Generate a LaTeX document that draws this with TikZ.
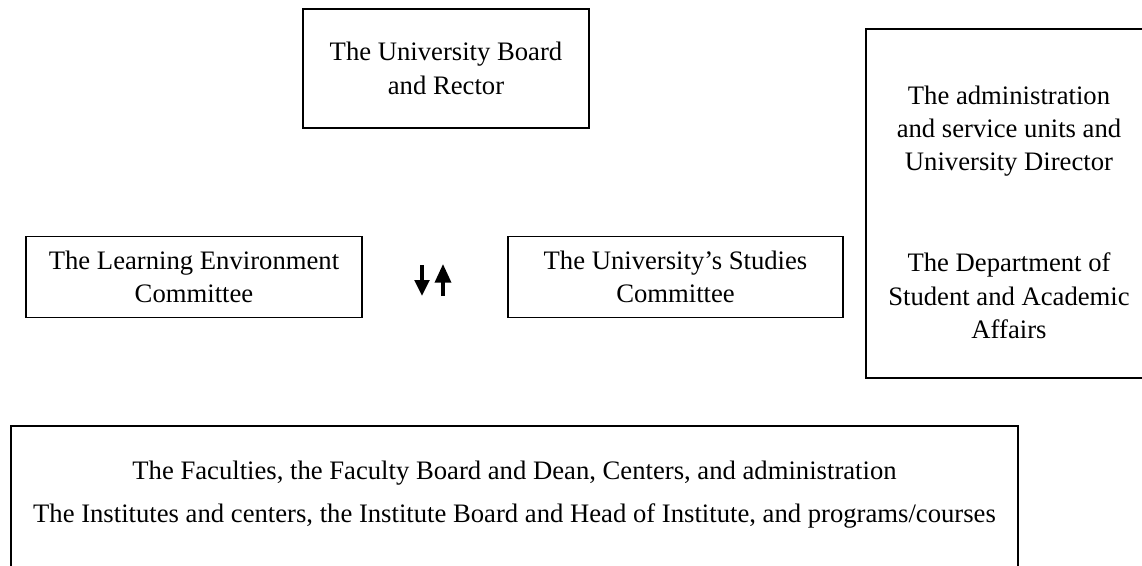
\documentclass[tikz,border=0pt]{standalone}
\usepackage{fontspec}
\setmainfont{Liberation Serif}
\usetikzlibrary{arrows.meta}

\begin{document}
\begin{tikzpicture}[x=0.75pt,y=-0.75pt]

        \useasboundingbox (0,0) rectangle (1142,565);
        \clip (0,0) rectangle (1142,565);

        \begin{scope}[every node/.style={draw, line width=1.3pt, align=center, inner sep=0pt,
                      font=\fontsize{20}{25}\selectfont}]
          \node[minimum width=214.5pt, minimum height=89.25pt]  (board)   at (446,68.5)   {The University Board\\and Rector};
          \node[minimum width=252pt, minimum height=60.75pt]    (learn)   at (194,277)    {The Learning Environment\\Committee};
          \node[minimum width=251.25pt, minimum height=60.75pt] (studies) at (675.5,277)  {The University's Studies\\Committee};
          \node[minimum width=214.5pt, minimum height=261.75pt] (support) at (1009,203.5) {};
          \node[minimum width=755.25pt, minimum height=112.5pt] (faculty) at (514.5,501)  {};
        \end{scope}

        \begin{scope}[every node/.style={align=center, inner sep=0pt, font=\fontsize{20}{25}\selectfont}]
          \node (admin)     at (1009,131) {The administration\\and service units and\\University Director};
          \node (dept)      at (1009,296) {The Department of\\Student and Academic\\Affairs};
          \node (faculties) at (514.5,473) {The Faculties, the Faculty Board and Dean, Centers, and administration};
          \node (institute) at (514.5,516) {The Institutes and centers, the Institute Board and Head of Institute, and programs/courses};
        \end{scope}

        \coordinate (down1) at (422,265);
        \coordinate (down2) at (422,296);
        \coordinate (up1)   at (443,296);
        \coordinate (up2)   at (443,264);

        \begin{scope}[line width=2.6pt]
          \draw[-{Triangle[length=12pt,width=11pt]}] (down1) -- (down2);
          \draw[-{Triangle[length=14pt,width=12pt]}] (up1) -- (up2);
        \end{scope}

      \end{tikzpicture}
\end{document}
